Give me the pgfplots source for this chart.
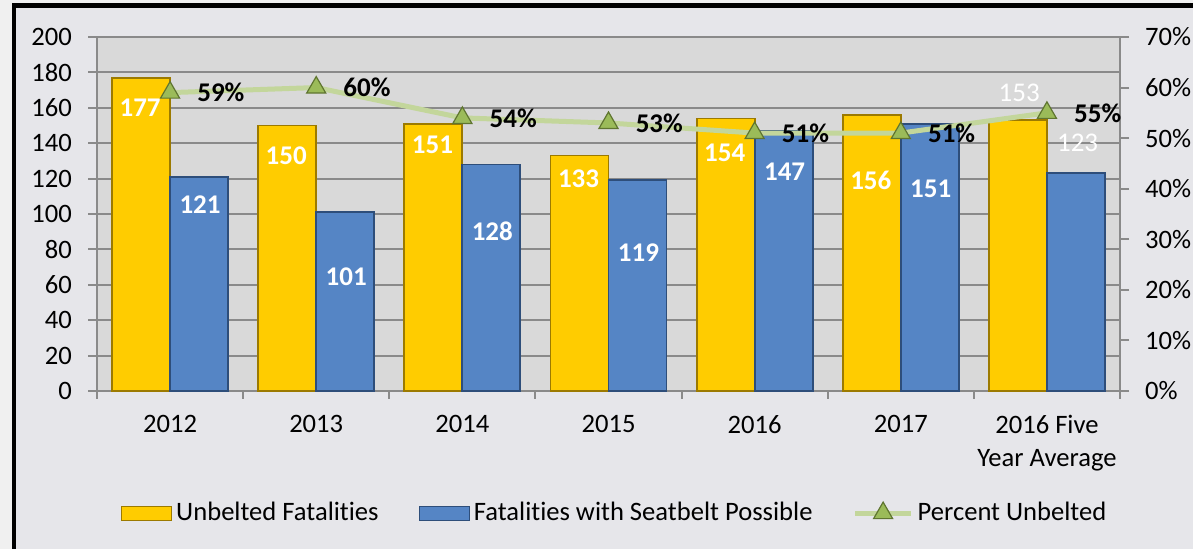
\documentclass[border=0pt]{standalone}
\usepackage{pgfplots}
\pgfplotsset{compat=1.18}
\usepackage{fontspec}
\setmainfont{Carlito}[Ligatures=NoCommon]
\definecolor{barY}{HTML}{FFCC00}
\definecolor{barYdk}{HTML}{9C7A00}
\definecolor{barB}{HTML}{5585C5}
\definecolor{barBdk}{HTML}{2E4E7A}
\definecolor{lineG}{HTML}{C3D69B}
\definecolor{markG}{HTML}{9BBB59}
\definecolor{markGdk}{HTML}{5F7530}
\definecolor{gridG}{HTML}{8A8A8A}
\definecolor{bgOut}{HTML}{E6E6EA}
\definecolor{bgPlot}{HTML}{D9D9D9}
\newcommand{\chartfont}{\fontsize{13.3}{16.5}\selectfont}
\newcommand{\lblfont}{\bfseries\fontsize{13.5}{15}\selectfont}
\pgfplotsset{
  wide line legend/.style={legend image code/.code={%
    \draw[mark repeat=2, mark phase=2, ##1] plot coordinates {(0pt,0pt) (14pt,0pt) (28pt,0pt)};}},
  bar legend/.style 2 args={legend image code/.code={%
    \draw[fill=#1, draw=#2, line width=0.6pt] (0pt,-3.5pt) rectangle (25pt,3.5pt);}},
}

\begin{document}
\begin{tikzpicture}
\useasboundingbox (-48.5pt,-79pt) rectangle (548pt,195.5pt);
\fill[white!94!black] (-48.5pt,-79pt) rectangle (548pt,195.5pt);
\fill[bgOut] (-41.5pt,-79pt) rectangle (548pt,192.75pt);
\draw[black, line width=2.2pt] (-41.5pt,-80pt) -- (-41.5pt,192.75pt) -- (549pt,192.75pt);

\begin{axis}[
  at={(0pt,0pt)}, anchor=south west,
  scale only axis, width=511.5pt, height=177pt,
  xmin=-0.5, xmax=6.5, ymin=0, ymax=200,
  ybar=0pt, bar width=29pt,
  axis background/.style={fill=bgPlot},
  axis y line*=left, axis x line*=bottom,
  axis line style={gridG, line width=1pt, -},
  ytick={0,20,...,200}, ymajorgrids,
  grid style={gridG, line width=1pt},
  xtick={0,...,6},
  xticklabels={2012,2013,2014,2015,2016,2017,{2016 Five\\Year Average}},
  minor xtick={-0.5,0.5,...,6.5},
  tick align=outside,
  major x tick style={draw=none},
  major tick length=4.5pt, minor tick length=4pt,
  tick style={gridG, line width=1pt},
  xticklabel style={align=center, font=\chartfont, yshift=-4pt},
  yticklabel style={font=\chartfont, xshift=-4.5pt},
  /pgf/number format/assume math mode=true,
  clip=false,
]
\addplot[fill=barY, draw=barYdk, line width=0.9pt] coordinates {(0,177) (1,150) (2,151) (3,133) (4,154) (5,156) (6,153)};
\addplot[fill=barB, draw=barBdk, line width=0.9pt] coordinates {(0,121) (1,101) (2,128) (3,119) (4,147) (5,151) (6,123)};
% data labels
\begin{scope}[every node/.style={font=\lblfont, text=white}]
\node at (axis cs:-0.205,160) {177};
\node at (axis cs:0.795,133) {150};
\node at (axis cs:1.795,139) {151};
\node at (axis cs:2.795,120) {133};
\node at (axis cs:3.795,134.5) {154};
\node at (axis cs:4.795,119) {156};
\node[font=\fontsize{13.5}{15}\selectfont] at (axis cs:5.81,168.5) {153};
\node at (axis cs:0.205,105) {121};
\node at (axis cs:1.205,64.5) {101};
\node at (axis cs:2.205,90) {128};
\node at (axis cs:3.205,78) {119};
\node at (axis cs:4.205,124) {147};
\node at (axis cs:5.205,114.5) {151};
\node[font=\fontsize{13.5}{15}\selectfont] at (axis cs:6.21,140) {123};
\end{scope}
\end{axis}

\begin{axis}[
  at={(0pt,0pt)}, anchor=south west,
  scale only axis, width=511.5pt, height=177pt,
  xmin=-0.5, xmax=6.5, ymin=0, ymax=70,
  axis y line*=right, axis x line=none,
  axis line style={gridG, line width=1pt, -},
  ytick={0,10,...,70},
  yticklabel={\pgfmathprintnumber{\tick}\%},
  tick align=outside, major tick length=4.5pt,
  tick style={gridG, line width=1pt},
  yticklabel style={font=\chartfont, xshift=4.5pt},
  /pgf/number format/assume math mode=true,
  clip=false,
  legend columns=3,
  legend style={at={(0.507,-0.345)}, anchor=center, draw=none, fill=none,
    font=\chartfont, /tikz/every even column/.append style={column sep=18pt}},
]
\addlegendimage{bar legend={barY}{barYdk}}
\addlegendentry{Unbelted Fatalities}
\addlegendimage{bar legend={barB}{barBdk}}
\addlegendentry{Fatalities with Seatbelt Possible}
\addplot[lineG, line width=2.5pt, mark=triangle*, mark size=5.5pt,
  mark options={fill=markG, draw=markGdk, line width=0.6pt},
  nodes near coords={\pgfmathprintnumber{\pgfplotspointmeta}\%},
  every node near coord/.append style={anchor=west, xshift=10pt, text=black, font=\lblfont},
  wide line legend
] coordinates {(0,59) (1,60) (2,54) (3,53) (4,51) (5,51) (6,55)};
\addlegendentry{Percent Unbelted}
\end{axis}
\end{tikzpicture}
\end{document}
